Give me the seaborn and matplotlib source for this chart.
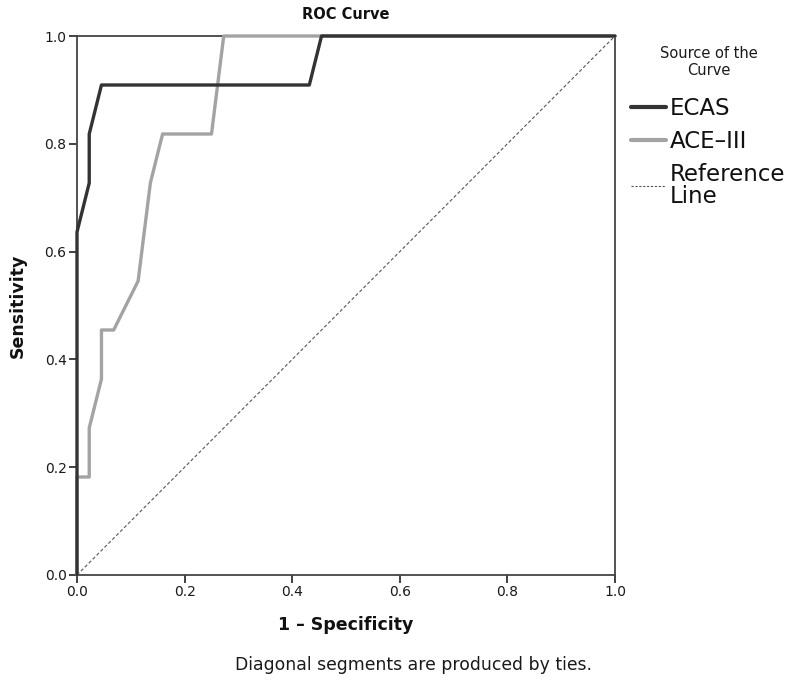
import numpy as np
import pandas as pd
import matplotlib
matplotlib.use("Agg")
import matplotlib.pyplot as plt
from matplotlib.lines import Line2D
import seaborn as sns

# ROC coordinates (1 - specificity, sensitivity)
ecas_fpr = [0, 0, 1/44, 1/44, 2/44, 19/44, 20/44, 1]
ecas_tpr = [0, 7/11, 8/11, 9/11, 10/11, 10/11, 1, 1]

ace_fpr = [0, 0, 1/44, 1/44, 2/44, 2/44, 3/44, 5/44, 6/44, 7/44, 11/44, 12/44, 1]
ace_tpr = [0, 2/11, 2/11, 3/11, 4/11, 5/11, 5/11, 6/11, 8/11, 9/11, 9/11, 1, 1]

ref_x = [0, 1]
ref_y = [0, 1]

tick_values = [0.0, 0.2, 0.4, 0.6, 0.8, 1.0]
series_names = ["ECAS", "ACE\u2013III", "Reference\nLine"]

sns.set_theme(style="white")
plt.rcParams["font.family"] = ["DejaVu Sans"]

W, H = 797, 682
fig = plt.figure(figsize=(W / 100, H / 100), dpi=100)
ax = fig.add_axes([77 / W, 1 - 575 / H, 538 / W, 539 / H])

dark = "#333333"
light = "#a3a3a3"

ecas_df = pd.DataFrame({"x": ecas_fpr, "y": ecas_tpr})
ace_df = pd.DataFrame({"x": ace_fpr, "y": ace_tpr})
ref_df = pd.DataFrame({"x": ref_x, "y": ref_y})

sns.lineplot(data=ref_df, x="x", y="y", ax=ax, sort=False, estimator=None,
             color="#555555", lw=0.8, linestyle=(0, (3, 2)), zorder=2)
sns.lineplot(data=ace_df, x="x", y="y", ax=ax, sort=False, estimator=None,
             color=light, lw=2.4, zorder=3)
sns.lineplot(data=ecas_df, x="x", y="y", ax=ax, sort=False, estimator=None,
             color=dark, lw=2.4, zorder=4)
for ln in ax.lines:
    ln.set_clip_on(False)

ax.set_xlim(0, 1)
ax.set_ylim(0, 1)
ax.set_xticks(tick_values)
ax.set_yticks(tick_values)
ax.set_xticklabels([f"{v:.1f}" for v in tick_values])
ax.set_yticklabels([f"{v:.1f}" for v in tick_values])
ax.tick_params(axis="both", which="both", direction="out", length=5.5, width=1.3,
               color=dark, labelsize=10, labelcolor="#1a1a1a", pad=2,
               bottom=True, left=True, top=False, right=False)

for s in ax.spines.values():
    s.set_visible(True)
    s.set_color("#444444")
    s.set_linewidth(1.3)

ax.set_xlabel("1 \u2013 Specificity", fontsize=12.5, fontweight="bold",
              labelpad=12, color="#111111")
ax.set_ylabel("Sensitivity", fontsize=12.5, fontweight="bold",
              labelpad=13, color="#111111")
ax.set_title("ROC Curve", fontsize=10.5, fontweight="bold", pad=12.5,
             color="#111111")

fig.text(414 / W, 1 - 665 / H, "Diagonal segments are produced by ties.",
         ha="center", va="center", fontsize=12.4, color="#1a1a1a")

handles = [
    Line2D([], [], color=dark, lw=3),
    Line2D([], [], color=light, lw=3),
    Line2D([], [], color="#555555", lw=0.8, linestyle=(0, (2, 1.5))),
]
leg = fig.legend(handles, series_names, title="Source of the\nCurve",
                 loc="upper left", bbox_to_anchor=(622 / W, 1 - 37 / H),
                 frameon=False, fontsize=16.5, title_fontsize=10.5,
                 handlelength=1.5, handletextpad=0.2, labelspacing=0.42,
                 borderaxespad=0)
leg.get_title().set_multialignment("center")
leg.get_title().set_linespacing(1.15)
for t in leg.get_texts():
    t.set_color("#111111")
    t.set_linespacing(0.95)
leg.get_title().set_color("#1a1a1a")
leg._legend_box.sep = 14

fig.savefig("out.png", dpi=100)
